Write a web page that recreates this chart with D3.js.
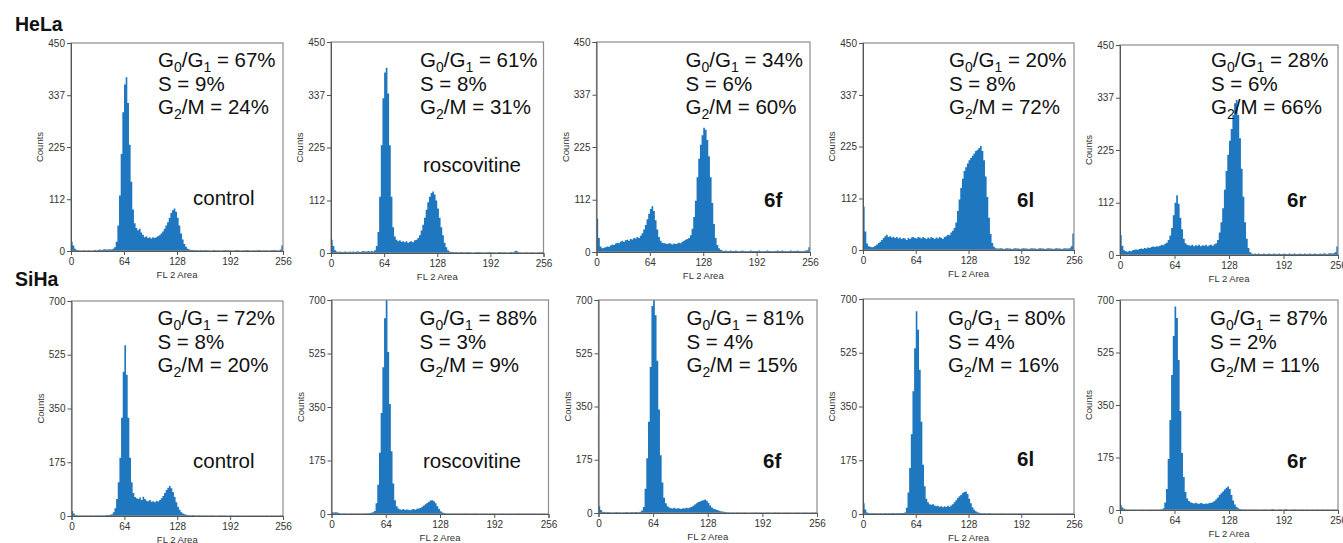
<!DOCTYPE html>
<meta charset="utf-8">
<style>
  body { margin: 0; background: #fff; }
  svg { display: block; font-family: "Liberation Sans", Arial, sans-serif; }
  .frame { fill: none; stroke: #8c8c8c; stroke-width: 1.2px; }
  .axis path, .axis line { stroke: #555; stroke-width: 1px; }
  .axis text { font: 10px "Liberation Sans Narrow", "Liberation Sans", Arial, sans-serif; fill: #333; }
  .axlabel { font: 9.5px "Liberation Sans", Arial, sans-serif; fill: #333; }
  .hist { fill: #1f77bf; }
  .stat { font-size: 20.5px; fill: #111; }
  .name { font-size: 20.5px; fill: #111; }
  .bold { font-weight: bold; }
  .row { font-size: 19.5px; font-weight: bold; fill: #111; }
</style>
<svg width="1343" height="543"></svg>
<script src="https://d3js.org/d3.v7.min.js"></script>
<script>

  // tick labels
  var xTicks = [0, 64, 128, 192, 256];
  var helaYTicks = [0, 112, 225, 337, 450];
  var sihaYTicks = [0, 175, 350, 525, 700];

  var treatments = ["control", "roscovitine", "6f", "6l", "6r"];

  // cell-cycle percentages
  var helaG1 = [67, 61, 34, 20, 28];
  var helaS  = [9, 8, 6, 8, 6];
  var helaG2 = [24, 31, 60, 72, 66];
  var sihaG1 = [72, 88, 81, 80, 87];
  var sihaS  = [8, 3, 4, 4, 2];
  var sihaG2 = [20, 9, 15, 16, 11];

  // counts per 2-channel bin (channels 0..254)
  var helaControl = [
    20,12,5,2,1,1,0,1,1,0,1,1,0,1,2,1,
    2,3,2,3,4,3,3,4,3,5,8,20,55,120,210,300,
    360,376,320,230,150,90,60,50,45,48,40,35,30,32,28,30,
    27,30,28,30,32,34,38,42,48,55,62,72,82,88,92,85,
    72,55,38,25,15,9,5,3,2,2,1,2,1,1,2,1,
    1,2,1,1,0,1,2,1,1,1,0,1,1,2,1,1,
    1,0,1,1,2,1,0,1,1,1,2,1,0,1,1,1,
    1,2,1,0,1,1,1,0,1,1,2,1,1,0,3,12];
  var helaRosco = [
    28,15,6,3,2,3,2,2,3,2,2,3,2,3,2,3,
    3,2,3,4,3,3,4,3,4,3,6,15,45,120,230,330,
    385,395,340,230,120,55,35,28,25,27,24,25,23,25,22,24,
    25,23,27,28,32,38,48,60,75,92,108,120,128,131,125,112,
    95,75,55,38,22,12,6,3,2,2,1,2,1,1,2,1,
    1,1,2,1,1,0,1,1,2,1,1,1,0,1,1,2,
    1,1,1,0,1,2,1,1,1,1,0,1,2,1,3,5,
    3,1,1,0,1,1,1,0,1,1,1,0,1,1,1,2];
  var hela6f = [
    71,30,12,8,9,10,12,11,14,16,15,18,20,19,22,24,
    22,25,26,24,28,27,30,29,32,30,35,40,48,58,70,82,
    92,98,88,68,48,32,24,20,19,18,17,19,18,16,18,17,
    18,20,19,22,24,26,28,30,36,50,75,110,160,200,230,250,
    266,262,240,205,160,105,60,30,15,8,5,3,2,3,2,2,
    3,2,2,3,2,1,2,3,2,2,1,2,3,2,2,2,
    2,3,2,1,2,2,3,2,2,1,2,2,3,2,2,3,
    2,2,1,2,3,2,2,2,3,2,2,1,2,3,4,10];
  var hela6l = [
    94,40,14,8,7,6,7,9,12,15,18,22,26,30,33,28,
    30,27,29,26,28,25,27,24,26,25,22,26,24,27,28,26,
    25,28,27,25,28,26,24,27,25,28,26,24,27,25,28,26,
    24,28,30,33,32,38,42,48,60,85,110,135,155,172,180,188,
    195,200,205,210,215,218,222,226,215,195,160,115,70,35,15,7,
    4,3,3,4,3,2,3,4,3,3,2,3,4,3,3,2,
    3,4,3,3,2,3,4,3,3,2,3,4,3,3,2,3,
    4,3,3,2,3,4,3,3,2,3,4,3,3,4,8,36];
  var hela6r = [
    43,20,10,8,7,9,8,10,11,12,11,13,14,13,15,14,
    16,15,17,18,17,19,18,20,22,21,24,26,32,42,58,85,
    112,128,110,80,55,35,25,22,21,20,22,19,21,20,22,19,
    21,20,22,19,21,22,20,23,25,32,48,70,100,140,180,215,
    245,270,300,325,332,300,250,185,125,70,35,15,6,3,2,3,
    2,3,2,2,3,2,2,3,2,2,3,2,2,3,2,2,
    3,2,2,3,2,2,3,2,2,3,2,2,3,2,2,3,
    2,2,3,2,2,3,2,3,3,2,3,4,3,4,6,18];
  var sihaControl = [
    16,8,3,2,1,2,1,1,2,1,1,2,1,1,2,1,
    2,1,2,2,2,3,3,4,6,12,25,55,110,190,320,470,
    556,460,320,190,110,75,62,58,55,60,52,63,55,50,48,52,
    46,48,45,50,47,52,58,65,75,85,92,98,90,78,62,45,
    30,20,12,8,6,4,3,2,2,3,2,1,2,2,1,2,
    1,2,1,1,2,1,1,0,1,1,2,1,1,1,0,1,
    1,1,0,1,1,1,0,1,1,0,1,1,1,0,1,1,
    0,1,1,1,0,1,1,0,1,1,1,0,1,1,1,2];
  var sihaRosco = [
    6,5,6,5,3,1,1,2,1,1,1,2,1,1,1,2,
    1,1,1,2,2,2,3,4,6,10,35,96,200,330,480,640,
    700,530,360,205,100,45,25,18,15,14,16,13,15,14,12,15,
    16,14,17,18,20,24,28,32,36,40,44,45,42,35,25,16,
    9,5,3,2,1,2,1,1,1,2,1,1,1,1,2,1,
    1,1,1,1,2,1,1,0,1,1,1,1,0,1,1,1,
    1,0,1,1,1,1,0,1,1,1,1,0,1,1,1,1,
    0,1,1,1,1,0,1,1,1,0,1,1,1,1,0,1];
  var siha6f = [
    22,10,4,3,2,3,2,2,1,2,3,2,2,1,2,2,
    3,2,2,3,2,3,3,2,4,8,20,80,180,300,480,680,
    700,650,500,340,190,100,50,32,22,18,16,15,17,14,16,15,
    13,16,15,17,16,18,20,24,28,32,36,38,40,42,44,40,
    33,25,18,14,12,10,8,6,5,4,3,2,2,1,2,1,
    1,2,1,1,1,2,1,1,0,1,1,1,2,1,1,1,
    0,1,1,1,1,0,1,2,1,1,1,0,1,1,1,1,
    1,0,1,1,1,1,0,1,1,1,1,0,1,1,1,2];
  var siha6l = [
    35,15,5,3,2,3,2,3,2,2,3,2,2,3,2,3,
    2,3,3,2,3,2,3,3,3,5,20,70,150,260,400,540,
    660,600,470,300,160,90,50,38,32,30,32,28,25,27,23,26,
    22,25,23,27,24,28,32,38,45,52,58,62,68,72,73,65,
    50,35,22,14,9,6,4,3,2,3,2,2,3,2,2,1,
    2,2,1,2,2,1,2,1,2,2,1,1,2,1,2,2,
    1,2,1,2,1,2,2,1,1,2,1,2,1,1,2,1,
    2,1,1,2,1,2,1,1,2,1,1,2,1,2,1,2];
  var siha6r = [
    17,8,4,2,1,0,1,0,1,0,0,1,0,1,0,0,
    1,0,1,0,1,1,0,1,2,6,25,70,170,300,450,580,
    678,640,500,330,190,110,60,38,30,26,23,22,24,22,21,23,
    22,20,22,21,23,24,26,30,36,42,50,56,62,68,74,78,
    70,50,32,18,10,6,3,2,1,2,1,1,2,1,1,1,
    1,1,0,1,1,2,1,0,1,3,1,0,1,1,2,0,
    1,3,1,0,1,1,2,1,0,1,1,1,0,1,1,0,
    1,1,0,1,1,0,1,1,0,1,1,0,1,1,0,1];

  var helaData = [helaControl, helaRosco, hela6f, hela6l, hela6r];
  var sihaData = [sihaControl, sihaRosco, siha6f, siha6l, siha6r];

  // panel boxes [left, right, top, bottom] and treatment label anchor [x, y]
  var helaBoxes = [[71, 283, 43, 251], [331, 543.5, 42, 253], [596.5, 810, 42, 252], [863, 1074, 43, 250], [1120, 1338, 45, 255]];
  var sihaBoxes = [[71.5, 283, 301, 516], [331.5, 548.5, 300, 514], [598.5, 817, 300, 513], [863, 1074, 299, 514], [1120, 1338, 300, 510]];
  var helaLabelPos = [[193, 205], [423, 172], [764, 207], [1017, 207], [1287, 207]];
  var sihaLabelPos = [[193, 468], [423, 468], [763, 468], [1017, 466], [1287, 468]];
  var statOffsets = [87, 89, 89, 86, 91];

  var svg = d3.select("svg");

  svg.append("text").attr("class", "row").attr("x", 15).attr("y", 31).text("HeLa");
  svg.append("text").attr("class", "row").attr("x", 15).attr("y", 286).text("SiHa");

  function drawPanel(box, counts, yTicks, g1, s, g2, label, labelPos, statX, statY) {
    var x = d3.scaleLinear().domain([0, 256]).range([box[0], box[1]]);
    var yMax = yTicks[yTicks.length - 1];
    var y = d3.scaleLinear().domain([0, yMax]).range([box[3], box[2]]);
    var g = svg.append("g");

    var pts = counts.map(function(v, i) { return { ch: i * 2, v: v }; });
    pts.push({ ch: 256, v: counts[counts.length - 1] });

    var area = d3.area()
        .curve(d3.curveStepAfter)
        .x(function(d) { return x(d.ch); })
        .y0(y(0))
        .y1(function(d) { return y(Math.min(d.v, yMax)); });

    g.append("path").attr("class", "hist").attr("d", area(pts));

    g.append("rect").attr("class", "frame")
        .attr("x", box[0]).attr("y", box[2])
        .attr("width", box[1] - box[0]).attr("height", box[3] - box[2]);

    g.append("g").attr("class", "axis")
        .attr("transform", "translate(" + box[0] + ",0)")
        .call(d3.axisLeft(y).tickValues(yTicks).tickFormat(d3.format("d")).tickSizeOuter(0).tickSize(4).tickPadding(2));

    g.append("g").attr("class", "axis")
        .attr("transform", "translate(0," + box[3] + ")")
        .call(d3.axisBottom(x).tickValues(xTicks).tickSizeOuter(0).tickSize(4).tickPadding(3));

    g.append("text").attr("class", "axlabel")
        .attr("transform", "translate(" + (box[0] - 28) + "," + ((box[2] + box[3]) / 2) + ") rotate(-90)")
        .attr("text-anchor", "middle")
        .text("Counts");

    g.append("text").attr("class", "axlabel")
        .attr("x", (box[0] + box[1]) / 2).attr("y", box[3] + 27)
        .attr("text-anchor", "middle")
        .text("FL 2 Area");

    var lines = [
      [["G", 0], ["0", 1], ["/G", 0], ["1", 1], [" = " + g1 + "%", 0]],
      [["S = " + s + "%", 0]],
      [["G", 0], ["2", 1], ["/M = " + g2 + "%", 0]]
    ];
    lines.forEach(function(parts, li) {
      var t = g.append("text").attr("class", "stat")
          .attr("x", statX).attr("y", statY + li * 23.7);
      var low = false;
      parts.forEach(function(p) {
        var ts = t.append("tspan").text(p[0]);
        if (p[1] && !low) { ts.attr("dy", 5).style("font-size", "14px"); low = true; }
        else if (p[1]) { ts.style("font-size", "14px"); }
        else if (low) { ts.attr("dy", -5); low = false; }
      });
    });

    g.append("text")
        .attr("class", "name" + (label.charAt(0) === "6" ? " bold" : ""))
        .attr("x", labelPos[0]).attr("y", labelPos[1])
        .text(label);
  }

  treatments.forEach(function(t, i) {
    drawPanel(helaBoxes[i], helaData[i], helaYTicks, helaG1[i], helaS[i], helaG2[i],
      t, helaLabelPos[i], helaBoxes[i][0] + statOffsets[i], 67);
    drawPanel(sihaBoxes[i], sihaData[i], sihaYTicks, sihaG1[i], sihaS[i], sihaG2[i],
      t, sihaLabelPos[i], sihaBoxes[i][0] + statOffsets[i] - 1, 325);
  });

</script>
